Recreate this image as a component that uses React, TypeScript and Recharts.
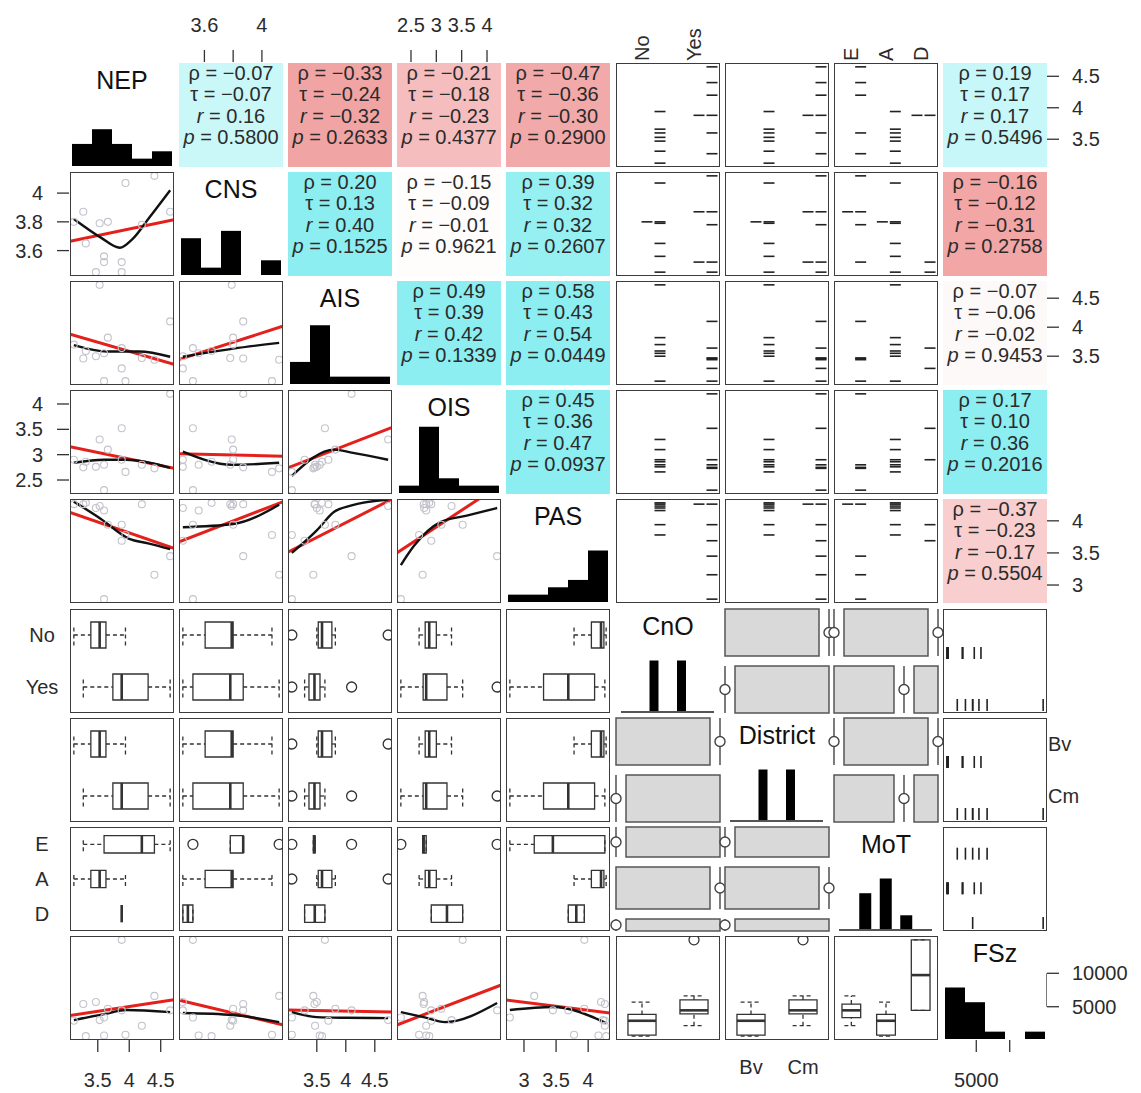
import React from "react";
import {
  ComposedChart,
  Scatter,
  Line,
  Bar,
  XAxis,
  YAxis,
  ReferenceArea,
  ReferenceLine,
} from "recharts";

const FONT = "'Liberation Sans', Arial, Helvetica, sans-serif";
const INK = "#2b2b2b";
const AX_FS = 20;

const varNames = ["NEP", "CNS", "AIS", "OIS", "PAS", "CnO", "District", "MoT", "FSz"];

// 14 respondents: first 7 are CnO No / District Bv / MoT A, then 5 x E, 2 x D
const NEP = [3.12, 3.31, 3.47, 3.53, 3.6, 3.66, 3.94, 3.27, 3.6, 4.2, 4.4, 4.65, 3.88, 3.88];
const CNS = [3.8, 3.65, 3.45, 3.79, 3.56, 3.8, 4.07, 3.87, 3.52, 3.78, 4.12, 3.87, 3.45, 3.52];
const AIS = [3.7, 3.59, 3.5, 4.73, 3.55, 3.82, 3.07, 3.46, 3.07, 3.47, 3.44, 4.1, 3.29, 3.64];
const OIS = [2.9, 2.86, 2.76, 3.3, 2.8, 3.1, 2.66, 2.75, 2.3, 2.8, 2.73, 4.2, 2.9, 3.52];
const PAS = [4.26, 4.28, 4.2, 4.23, 4.16, 3.94, 3.78, 4.26, 2.78, 4.26, 3.16, 3.45, 3.69, 3.94];
const FSz = [2900, 600, 5700, 3000, 700, 4700, 800, 5400, 3380, 2160, 6620, 4460, 4460, 15000];
const CnO = ["No", "No", "No", "No", "No", "No", "No", "Yes", "Yes", "Yes", "Yes", "Yes", "Yes", "Yes"];
const District = ["Bv", "Bv", "Bv", "Bv", "Bv", "Bv", "Bv", "Cm", "Cm", "Cm", "Cm", "Cm", "Cm", "Cm"];
const MoT = ["A", "A", "A", "A", "A", "A", "A", "E", "E", "E", "E", "E", "D", "D"];

const cnoLevels = ["No", "Yes"];
const districtLevels = ["Bv", "Cm"];
const motLevels = ["E", "A", "D"];

// histogram counts on the diagonal
const nepHist = [3, 5, 3, 1, 2];
const cnsHist = [5, 1, 6, 0, 2];
const aisHist = [3, 8, 1, 1, 1];
const oisHist = [1, 9, 2, 1, 1];
const pasHist = [1, 1, 2, 3, 7];
const fszHist = [7, 5, 1, 0, 1];

// correlation cells (row, col)
const statsPairs = [[0, 1], [0, 2], [0, 3], [0, 4], [1, 2], [1, 3], [1, 4], [2, 3], [2, 4], [3, 4], [0, 8], [1, 8], [2, 8], [3, 8], [4, 8]];
const rhoVals = [-0.07, -0.33, -0.21, -0.47, 0.2, -0.15, 0.39, 0.49, 0.58, 0.45, 0.19, -0.16, -0.07, 0.17, -0.37];
const tauVals = [-0.07, -0.24, -0.18, -0.36, 0.13, -0.09, 0.32, 0.39, 0.43, 0.36, 0.17, -0.12, -0.06, 0.1, -0.23];
const rVals = [0.16, -0.32, -0.23, -0.3, 0.4, -0.01, 0.32, 0.42, 0.54, 0.47, 0.17, -0.31, -0.02, 0.36, -0.17];
const pVals = ["0.5800", "0.2633", "0.4377", "0.2900", "0.1525", "0.9621", "0.2607", "0.1339", "0.0449", "0.0937", "0.5496", "0.2758", "0.9453", "0.2016", "0.5504"];

// scatter panels (row, col) with the red linear fit and the black smoother
const scatterPanels = [[1, 0], [2, 0], [2, 1], [3, 0], [3, 1], [3, 2], [4, 0], [4, 1], [4, 2], [4, 3], [8, 0], [8, 1], [8, 2], [8, 3], [8, 4]];
const fitLines = [
  [[3.06, 3.665], [4.71, 3.815]],
  [[3.06, 3.88], [4.71, 3.36]],
  [[3.42, 3.44], [4.15, 4.02]],
  [[3.06, 3.155], [4.71, 2.73]],
  [[3.42, 3.02], [4.15, 2.97]],
  [[3.0, 2.74], [4.8, 3.54]],
  [[3.06, 4.13], [4.71, 3.57]],
  [[3.42, 3.67], [4.15, 4.3]],
  [[3.0, 3.51], [4.8, 4.34]],
  [[2.22, 3.5], [4.28, 4.57]],
  [[3.06, 3670], [4.71, 6060]],
  [[3.42, 6000], [4.15, 2270]],
  [[3.0, 4500], [4.8, 4200]],
  [[2.22, 2270], [4.28, 8250]],
  [[2.72, 6000], [4.34, 4060]],
];
const smoothLines = [
  [[3.12, 3.82], [3.55, 3.69], [3.85, 3.62], [4.05, 3.68], [4.32, 3.83], [4.65, 4.02]],
  [[3.12, 3.69], [3.65, 3.58], [4.16, 3.58], [4.65, 3.49]],
  [[3.45, 3.49], [3.8, 3.63], [4.12, 3.73]],
  [[3.12, 2.84], [3.6, 2.9], [3.96, 2.9], [4.65, 2.74]],
  [[3.45, 3.06], [3.79, 2.8], [4.12, 2.84]],
  [[3.07, 2.58], [3.8, 3.1], [4.1, 3.04], [4.73, 2.9]],
  [[3.12, 4.3], [3.55, 4.03], [4.0, 3.72], [4.3, 3.65], [4.65, 3.56]],
  [[3.45, 3.9], [3.8, 3.95], [4.12, 4.25]],
  [[3.07, 3.5], [3.5, 3.85], [3.8, 4.14], [4.1, 4.24], [4.73, 4.33]],
  [[2.3, 3.31], [2.56, 3.61], [3.08, 3.98], [3.6, 4.08], [4.2, 4.2]],
  [[3.12, 3000], [3.6, 3900], [3.96, 4500], [4.65, 4200]],
  [[3.45, 4060], [3.8, 3760], [4.12, 2700]],
  [[3.07, 4200], [3.5, 3450], [4.0, 3350], [4.73, 3300]],
  [[2.3, 4200], [2.75, 3450], [3.17, 2700], [4.2, 5560]],
  [[2.78, 4500], [3.45, 4960], [4.28, 2560]],
];

// outer axes
const cnsTicks = [3.6, 3.8, 4];
const cnsTopLabels = ["3.6", "", "4"];
const cnsLeftLabels = ["3.6", "3.8", "4"];
const oisTicks = [2.5, 3, 3.5, 4];
const oisLabels = ["2.5", "3", "3.5", "4"];
const nepTicks = [3.5, 4, 4.5];
const nepLabels = ["3.5", "4", "4.5"];
const aisTicks = [3.5, 4, 4.5];
const aisLabels = ["3.5", "4", "4.5"];
const pasTicks = [3, 3.5, 4];
const pasLabels = ["3", "3.5", "4"];
const fszTicks = [5000, 10000];
const fszBottomLabels = ["5000", ""];
const fszRightLabels = ["5000", "10000"];

const contVars: Record<number, number[]> = { 0: NEP, 1: CNS, 2: AIS, 3: OIS, 4: PAS, 8: FSz };
const factVars: Record<number, string[]> = { 5: CnO, 6: District, 7: MoT };
const factLevels: Record<number, string[]> = { 5: cnoLevels, 6: districtLevels, 7: motLevels };
const histCounts: Record<number, number[]> = { 0: nepHist, 1: cnsHist, 2: aisHist, 3: oisHist, 4: pasHist, 8: fszHist };

const S = 104;
const PITCH = 109.1;
const X0 = 70;
const Y0 = 63;
const W = 1141;
const H = 1093;
const colLeft = (c: number) => Math.round(X0 + c * PITCH);
const rowTop = (r: number) => Math.round(Y0 + r * PITCH);
const ZERO = { top: 0, right: 0, bottom: 0, left: 0 };
const isCont = (i: number) => i <= 4 || i === 8;
const NONE: { x: number; y: number }[] = [];

function domainOf(v: number[]): [number, number] {
  const lo = Math.min(...v);
  const hi = Math.max(...v);
  const pad = (hi - lo) * 0.04;
  return [lo - pad, hi + pad];
}

function fivenum(v: number[]) {
  const s = [...v].sort((a, b) => a - b);
  const n = s.length;
  const n4 = Math.floor((n + 3) / 2) / 2;
  const d = [1, n4, (n + 1) / 2, n + 1 - n4, n];
  return d.map((k) => 0.5 * (s[Math.floor(k) - 1] + s[Math.ceil(k) - 1]));
}

function boxStats(v: number[]) {
  const [, q1, med, q3] = fivenum(v);
  const iqr = q3 - q1;
  const lo = q1 - 1.5 * iqr;
  const hi = q3 + 1.5 * iqr;
  const inside = v.filter((x) => x >= lo && x <= hi);
  return {
    q1,
    med,
    q3,
    wlo: Math.min(...inside),
    whi: Math.max(...inside),
    out: v.filter((x) => x < lo || x > hi),
  };
}

function corrColor(r: number) {
  const t = Math.min(1, Math.abs(r) / 0.35);
  const full = r >= 0 ? [140, 238, 240] : [240, 155, 155];
  const c = full.map((f) => Math.round(255 + (f - 255) * t));
  return `rgb(${c.join(",")})`;
}

const fmt = (v: number) => (v < 0 ? "\u2212" : "") + Math.abs(v).toFixed(2);

const openDot = (p: any) => (
  <circle cx={p.cx} cy={p.cy} r={3.5} fill="none" stroke="#c3c3cc" strokeWidth={1.1} />
);
const outlierDot = (p: any) => (
  <circle cx={p.cx} cy={p.cy} r={5} fill="none" stroke="#333" strokeWidth={1.3} />
);
const hDash = (p: any) => (
  <line x1={p.cx - 5.5} x2={p.cx + 5.5} y1={p.cy} y2={p.cy} stroke="#222" strokeWidth={1.6} />
);
const vDash = (p: any) => (
  <line x1={p.cx} x2={p.cx} y1={p.cy - 6} y2={p.cy + 6} stroke="#222" strokeWidth={1.6} />
);

const boxLine = { stroke: "#333", strokeWidth: 1.3, ifOverflow: "visible" as const };
const dashLine = { ...boxLine, strokeDasharray: "4 3" };

function ScatterPanel({ r, c }: { r: number; c: number }) {
  const idx = scatterPanels.findIndex(([a, b]) => a === r && b === c);
  const xs = contVars[c];
  const ys = contVars[r];
  const pts = xs.map((x, i) => ({ x, y: ys[i] }));
  const fit = fitLines[idx].map(([x, y]) => ({ x, y }));
  const smooth = smoothLines[idx].map(([x, y]) => ({ x, y }));
  return (
    <ComposedChart width={S} height={S} margin={ZERO}>
      <XAxis type="number" dataKey="x" domain={domainOf(xs)} hide allowDataOverflow />
      <YAxis type="number" dataKey="y" domain={domainOf(ys)} hide allowDataOverflow />
      <Scatter data={pts} shape={openDot} isAnimationActive={false} />
      <Line data={fit} dataKey="y" type="linear" stroke="#e3201b" strokeWidth={3} dot={false} isAnimationActive={false} />
      <Line data={smooth} dataKey="y" type="monotone" stroke="#111" strokeWidth={2.4} dot={false} isAnimationActive={false} />
    </ComposedChart>
  );
}

function HistPanel({ i }: { i: number }) {
  const data = histCounts[i].map((n, b) => ({ b: String(b), n }));
  return (
    <ComposedChart width={S} height={S} margin={{ top: 0, right: 2, bottom: 1, left: 2 }} data={data} barCategoryGap={0} barGap={0}>
      <XAxis dataKey="b" type="category" hide />
      <YAxis type="number" domain={[0, NEP.length]} hide />
      <Bar dataKey="n" fill="#000" isAnimationActive={false} />
    </ComposedChart>
  );
}

function FactorBarPanel({ i }: { i: number }) {
  const levels = factLevels[i];
  const vals = factVars[i];
  const data = levels.map((lv) => ({ lv, n: vals.filter((v) => v === lv).length }));
  const k = levels.length;
  const band = k === 2 ? 27.5 : 20.5;
  const side = (S - band * k) / 2;
  return (
    <ComposedChart width={S} height={S} margin={{ top: 0, right: side, bottom: 1, left: side }} data={data}>
      <XAxis dataKey="lv" type="category" hide />
      <YAxis type="number" domain={[0, vals.length]} hide />
      <Bar dataKey="n" fill="#000" barSize={k === 2 ? 9 : 12} isAnimationActive={false} />
    </ComposedChart>
  );
}

function BarcodePanel({ r, c }: { r: number; c: number }) {
  const ys = contVars[r];
  const groups = factVars[c];
  const levels = factLevels[c];
  const k = levels.length;
  const ux = k / S;
  const pts: { x: number; y: number }[] = [];
  levels.forEach((lv, g) => {
    const used: Record<string, number> = {};
    ys.forEach((y, i) => {
      if (groups[i] !== lv) return;
      const key = y.toFixed(3);
      const n = used[key] || 0;
      used[key] = n + 1;
      pts.push({ x: g + 1 - 8 * ux - n * 13 * ux, y });
    });
  });
  return (
    <ComposedChart width={S} height={S} margin={ZERO}>
      <XAxis type="number" dataKey="x" domain={[0, k]} hide allowDataOverflow />
      <YAxis type="number" dataKey="y" domain={domainOf(ys)} hide allowDataOverflow />
      <Scatter data={pts} shape={hDash} isAnimationActive={false} />
    </ComposedChart>
  );
}

function VBarcodePanel({ r }: { r: number }) {
  const groups = factVars[r];
  const levels = factLevels[r];
  const k = levels.length;
  const uy = k / S;
  const pts = FSz.map((x, i) => ({ x, y: k - levels.indexOf(groups[i]) - 1 + 8 * uy }));
  return (
    <ComposedChart width={S} height={S} margin={ZERO}>
      <XAxis type="number" dataKey="x" domain={domainOf(FSz)} hide allowDataOverflow />
      <YAxis type="number" dataKey="y" domain={[0, k]} hide allowDataOverflow />
      <Scatter data={pts} shape={vDash} isAnimationActive={false} />
    </ComposedChart>
  );
}

function HBoxPanel({ r, c }: { r: number; c: number }) {
  const vals = contVars[c];
  const groups = factVars[r];
  const levels = factLevels[r];
  const k = levels.length;
  const hw = 0.25;
  const sw = 0.2;
  const els: React.ReactNode[] = [];
  const outs: { x: number; y: number }[] = [];
  levels.forEach((lv, g) => {
    const b = boxStats(vals.filter((_, i) => groups[i] === lv));
    const y = k - g - 0.5;
    els.push(<ReferenceArea key={`a${g}`} x1={b.q1} x2={b.q3} y1={y - hw} y2={y + hw} fill="none" {...boxLine} />);
    els.push(<ReferenceLine key={`m${g}`} segment={[{ x: b.med, y: y - hw }, { x: b.med, y: y + hw }]} {...boxLine} strokeWidth={2.6} />);
    els.push(<ReferenceLine key={`wl${g}`} segment={[{ x: b.wlo, y }, { x: b.q1, y }]} {...dashLine} />);
    els.push(<ReferenceLine key={`wh${g}`} segment={[{ x: b.q3, y }, { x: b.whi, y }]} {...dashLine} />);
    els.push(<ReferenceLine key={`sl${g}`} segment={[{ x: b.wlo, y: y - sw }, { x: b.wlo, y: y + sw }]} {...dashLine} />);
    els.push(<ReferenceLine key={`sh${g}`} segment={[{ x: b.whi, y: y - sw }, { x: b.whi, y: y + sw }]} {...dashLine} />);
    b.out.forEach((x) => outs.push({ x, y }));
  });
  return (
    <ComposedChart width={S} height={S} margin={ZERO}>
      <XAxis type="number" dataKey="x" domain={domainOf(vals)} hide allowDataOverflow />
      <YAxis type="number" dataKey="y" domain={[0, k]} hide allowDataOverflow />
      {els}
      <Scatter data={outs} shape={outlierDot} isAnimationActive={false} />
    </ComposedChart>
  );
}

function VBoxPanel({ c }: { c: number }) {
  const groups = factVars[c];
  const levels = factLevels[c];
  const hw = 0.27;
  const sw = 0.2;
  const els: React.ReactNode[] = [];
  const outs: { x: number; y: number }[] = [];
  levels.forEach((lv, g) => {
    const b = boxStats(FSz.filter((_, i) => groups[i] === lv));
    const x = g + 0.5;
    els.push(<ReferenceArea key={`a${g}`} x1={x - hw} x2={x + hw} y1={b.q1} y2={b.q3} fill="none" {...boxLine} />);
    els.push(<ReferenceLine key={`m${g}`} segment={[{ x: x - hw, y: b.med }, { x: x + hw, y: b.med }]} {...boxLine} strokeWidth={2.6} />);
    els.push(<ReferenceLine key={`wl${g}`} segment={[{ x, y: b.wlo }, { x, y: b.q1 }]} {...dashLine} />);
    els.push(<ReferenceLine key={`wh${g}`} segment={[{ x, y: b.q3 }, { x, y: b.whi }]} {...dashLine} />);
    els.push(<ReferenceLine key={`sl${g}`} segment={[{ x: x - sw, y: b.wlo }, { x: x + sw, y: b.wlo }]} {...dashLine} />);
    els.push(<ReferenceLine key={`sh${g}`} segment={[{ x: x - sw, y: b.whi }, { x: x + sw, y: b.whi }]} {...dashLine} />);
    b.out.forEach((y) => outs.push({ x, y }));
  });
  return (
    <ComposedChart width={S} height={S} margin={ZERO}>
      <XAxis type="number" dataKey="x" domain={[0, levels.length]} hide allowDataOverflow />
      <YAxis type="number" dataKey="y" domain={domainOf(FSz)} hide allowDataOverflow />
      {els}
      <Scatter data={outs} shape={outlierDot} isAnimationActive={false} />
    </ComposedChart>
  );
}

// empty cell of a mosaic: a vertical rule through a small open circle
const emptyCellMark = (p: any) => (
  <g>
    <line x1={p.cx} x2={p.cx} y1={p.cy - p.payload.hpx / 2} y2={p.cy + p.payload.hpx / 2} stroke="#444" strokeWidth={1.4} />
    <circle cx={p.cx} cy={p.cy} r={5} fill="#fff" stroke="#444" strokeWidth={1.4} />
  </g>
);

function MosaicPanel({ r, c }: { r: number; c: number }) {
  const rowF = factVars[r];
  const colF = factVars[c];
  const rowL = factLevels[r];
  const colL = factLevels[c];
  const gap = 10 / S;
  const n = rowF.length;
  const rowAvail = 1 - gap * (rowL.length - 1);
  const colAvail = 1 - gap * (colL.length - 1);
  const els: React.ReactNode[] = [];
  const empties: { x: number; y: number; hpx: number }[] = [];
  let yTop = 1;
  rowL.forEach((rl, a) => {
    const rowN = rowF.filter((v) => v === rl).length;
    const y1 = yTop - (rowAvail * rowN) / n;
    const y2 = yTop;
    let x = 0;
    colL.forEach((cl, b) => {
      const cnt = rowF.filter((v, i) => v === rl && colF[i] === cl).length;
      const w = (colAvail * cnt) / rowN;
      if (cnt > 0) {
        els.push(
          <ReferenceArea key={`r${a}${b}`} x1={x} x2={x + w} y1={y1} y2={y2} fill="#d9d9d9" fillOpacity={1} stroke="#555" strokeWidth={1.5} ifOverflow="visible" />
        );
      } else {
        empties.push({ x, y: (y1 + y2) / 2, hpx: (y2 - y1) * S });
      }
      x += w + gap;
    });
    yTop = y1 - gap;
  });
  return (
    <div className="mosaic">
      <ComposedChart width={S} height={S} margin={ZERO}>
        <XAxis type="number" dataKey="x" domain={[0, 1]} hide />
        <YAxis type="number" dataKey="y" domain={[0, 1]} hide />
        {els}
        <Scatter data={empties} shape={emptyCellMark} isAnimationActive={false} />
      </ComposedChart>
    </div>
  );
}

function StatsCell({ r, c }: { r: number; c: number }) {
  const k = statsPairs.findIndex(([a, b]) => a === r && b === c);
  return (
    <div
      style={{
        width: S,
        height: S,
        background: corrColor(rVals[k]),
        fontSize: 20,
        lineHeight: "21.3px",
        textAlign: "center",
        color: INK,
        whiteSpace: "nowrap",
      }}
    >
      <div>{"\u03c1 = " + fmt(rhoVals[k])}</div>
      <div>{"\u03c4 = " + fmt(tauVals[k])}</div>
      <div>
        <i>r</i>
        {" = " + fmt(rVals[k])}
      </div>
      <div>
        <i>p</i>
        {" = " + pVals[k]}
      </div>
    </div>
  );
}

function DiagCell({ i }: { i: number }) {
  return (
    <div style={{ position: "relative", width: S, height: S }}>
      <div style={{ position: "absolute", left: 0, top: 0 }}>
        {isCont(i) ? <HistPanel i={i} /> : <FactorBarPanel i={i} />}
      </div>
      {!isCont(i) && (
        <div style={{ position: "absolute", left: 5, top: 102, width: 93, height: 1.5, background: "#555" }} />
      )}
      <div
        style={{
          position: "absolute",
          left: -20,
          top: 4,
          width: S + 40,
          textAlign: "center",
          fontSize: 25,
          lineHeight: "26px",
          color: "#111",
        }}
      >
        {varNames[i]}
      </div>
    </div>
  );
}

function Cell({ r, c }: { r: number; c: number }) {
  let body: React.ReactNode = null;
  let framed = true;
  if (r === c) {
    body = <DiagCell i={r} />;
    framed = false;
  } else if (isCont(r) && isCont(c)) {
    if (r < c) {
      body = <StatsCell r={r} c={c} />;
      framed = false;
    } else body = <ScatterPanel r={r} c={c} />;
  } else if (isCont(r) && !isCont(c)) {
    body = r < c ? <BarcodePanel r={r} c={c} /> : <VBoxPanel c={c} />;
  } else if (!isCont(r) && isCont(c)) {
    body = c < r ? <HBoxPanel r={r} c={c} /> : <VBarcodePanel r={r} />;
  } else {
    body = <MosaicPanel r={r} c={c} />;
    framed = false;
  }
  return (
    <div style={{ position: "absolute", left: colLeft(c), top: rowTop(r), width: S, height: S }}>
      {body}
      {framed && (
        <div
          style={{
            position: "absolute",
            left: 0,
            top: 0,
            width: S,
            height: S,
            boxSizing: "border-box",
            border: "1.6px solid #3c3c3c",
            pointerEvents: "none",
          }}
        />
      )}
    </div>
  );
}

const tickLineStyle = { stroke: "#333", strokeWidth: 1.3 };
const labelProps = { fontSize: AX_FS, fontFamily: FONT, fill: INK };
const BOTTOM_TOP = rowTop(8) + S - 1;
const RIGHT_LEFT = colLeft(8) + S - 1;

// a horizontal axis strip (top or bottom of the matrix) for column c
function HAxisStrip({
  c,
  side,
  domain,
  ticks,
  render,
  tickSize,
}: {
  c: number;
  side: "top" | "bottom";
  domain: [number, number];
  ticks: number[];
  render: (p: any) => React.ReactElement;
  tickSize?: number;
}) {
  const h = side === "top" ? Y0 : H - BOTTOM_TOP;
  return (
    <div style={{ position: "absolute", left: colLeft(c), top: side === "top" ? 0 : BOTTOM_TOP }}>
      <ComposedChart width={S} height={h} margin={ZERO}>
        <XAxis
          type="number"
          dataKey="x"
          orientation={side}
          domain={domain}
          allowDataOverflow
          ticks={ticks}
          interval={0}
          height={h - 1}
          tickSize={tickSize ?? 0}
          axisLine={false}
          tickLine={tickSize ? tickLineStyle : false}
          tick={render}
        />
        <YAxis type="number" dataKey="y" domain={[0, 1]} hide allowDataOverflow />
        <Scatter data={NONE} isAnimationActive={false} />
      </ComposedChart>
    </div>
  );
}

// a vertical axis strip (left or right of the matrix) for row r
function VAxisStrip({
  r,
  side,
  domain,
  ticks,
  render,
  tickSize,
  bracket,
}: {
  r: number;
  side: "left" | "right";
  domain: [number, number];
  ticks: number[];
  render: (p: any) => React.ReactElement;
  tickSize?: number;
  bracket?: boolean;
}) {
  const x0 = side === "left" ? 0 : RIGHT_LEFT;
  const w = side === "left" ? X0 : W - RIGHT_LEFT;
  return (
    <div style={{ position: "absolute", left: x0, top: rowTop(r) }}>
      <ComposedChart width={w} height={S} margin={ZERO}>
        <XAxis type="number" dataKey="x" domain={[0, 1]} hide allowDataOverflow />
        <YAxis
          type="number"
          dataKey="y"
          orientation={side}
          domain={domain}
          allowDataOverflow
          ticks={ticks}
          interval={0}
          width={w - 1}
          tickSize={tickSize ?? 0}
          axisLine={false}
          tickLine={tickSize ? tickLineStyle : false}
          tick={render}
        />
        {bracket && (
          <ReferenceLine
            segment={[{ x: 0, y: ticks[0] }, { x: 0, y: ticks[ticks.length - 1] }]}
            stroke="#333"
            strokeWidth={1.3}
            ifOverflow="visible"
          />
        )}
        <Scatter data={NONE} isAnimationActive={false} />
      </ComposedChart>
    </div>
  );
}

const levelTicks = (k: number) => Array.from({ length: k }, (_, g) => g + 0.5);
const levelTicksDown = (k: number) => Array.from({ length: k }, (_, g) => k - g - 0.5);

function Axes() {
  const topNum = (labels: string[]) => (p: any) => (
    <text x={p.x} y={32} textAnchor="middle" {...labelProps}>
      {labels[p.index]}
    </text>
  );
  const bottomNum = (labels: string[]) => (p: any) => (
    <text x={p.x} y={48} textAnchor="middle" {...labelProps}>
      {labels[p.index]}
    </text>
  );
  const leftNum = (labels: string[]) => (p: any) => (
    <text x={43} y={p.y + 7} textAnchor="end" {...labelProps}>
      {labels[p.index]}
    </text>
  );
  const rightNum = (labels: string[]) => (p: any) => (
    <text x={26} y={p.y + 7} textAnchor="start" {...labelProps}>
      {labels[p.index]}
    </text>
  );
  const topFactor = (levels: string[]) => (p: any) => (
    <text x={p.x} y={61} dy="0.35em" textAnchor="start" transform={`rotate(-90, ${p.x}, 61)`} {...labelProps}>
      {levels[p.index]}
    </text>
  );
  const bottomFactor = (levels: string[]) => (p: any) => (
    <text x={p.x} y={35} textAnchor="middle" {...labelProps}>
      {levels[p.index]}
    </text>
  );
  const leftFactor = (levels: string[]) => (p: any) => (
    <text x={42} y={p.y + 7} textAnchor="middle" {...labelProps}>
      {levels[p.index]}
    </text>
  );
  const rightFactor = (levels: string[]) => (p: any) => (
    <text x={2} y={p.y + 7} textAnchor="start" {...labelProps}>
      {levels[p.index]}
    </text>
  );
  return (
    <>
      <HAxisStrip c={1} side="top" domain={domainOf(CNS)} ticks={cnsTicks} render={topNum(cnsTopLabels)} tickSize={12} />
      <HAxisStrip c={3} side="top" domain={domainOf(OIS)} ticks={oisTicks} render={topNum(oisLabels)} tickSize={12} />
      <HAxisStrip c={5} side="top" domain={[0, 2]} ticks={levelTicks(2)} render={topFactor(cnoLevels)} />
      <HAxisStrip c={7} side="top" domain={[0, 3]} ticks={levelTicks(3)} render={topFactor(motLevels)} />
      <HAxisStrip c={0} side="bottom" domain={domainOf(NEP)} ticks={nepTicks} render={bottomNum(nepLabels)} tickSize={12} />
      <HAxisStrip c={2} side="bottom" domain={domainOf(AIS)} ticks={aisTicks} render={bottomNum(aisLabels)} tickSize={12} />
      <HAxisStrip c={4} side="bottom" domain={domainOf(PAS)} ticks={pasTicks} render={bottomNum(pasLabels)} tickSize={12} />
      <HAxisStrip c={6} side="bottom" domain={[0, 2]} ticks={levelTicks(2)} render={bottomFactor(districtLevels)} />
      <HAxisStrip c={8} side="bottom" domain={domainOf(FSz)} ticks={fszTicks} render={bottomNum(fszBottomLabels)} tickSize={12} />
      <VAxisStrip r={1} side="left" domain={domainOf(CNS)} ticks={cnsTicks} render={leftNum(cnsLeftLabels)} tickSize={12} />
      <VAxisStrip r={3} side="left" domain={domainOf(OIS)} ticks={oisTicks} render={leftNum(oisLabels)} tickSize={12} />
      <VAxisStrip r={5} side="left" domain={[0, 2]} ticks={levelTicksDown(2)} render={leftFactor(cnoLevels)} />
      <VAxisStrip r={7} side="left" domain={[0, 3]} ticks={levelTicksDown(3)} render={leftFactor(motLevels)} />
      <VAxisStrip r={0} side="right" domain={domainOf(NEP)} ticks={nepTicks} render={rightNum(nepLabels)} tickSize={12} />
      <VAxisStrip r={2} side="right" domain={domainOf(AIS)} ticks={aisTicks} render={rightNum(aisLabels)} tickSize={12} />
      <VAxisStrip r={4} side="right" domain={domainOf(PAS)} ticks={pasTicks} render={rightNum(pasLabels)} tickSize={12} />
      <VAxisStrip r={6} side="right" domain={[0, 2]} ticks={levelTicksDown(2)} render={rightFactor(districtLevels)} />
      <VAxisStrip r={8} side="right" domain={domainOf(FSz)} ticks={fszTicks} render={rightNum(fszRightLabels)} tickSize={12} bracket />
    </>
  );
}

export default function App() {
  const cells: React.ReactNode[] = [];
  for (let r = 0; r < 9; r++) {
    for (let c = 0; c < 9; c++) {
      cells.push(<Cell key={`${r}-${c}`} r={r} c={c} />);
    }
  }
  return (
    <div
      style={{
        position: "absolute",
        left: 0,
        top: 0,
        width: W,
        height: H,
        background: "#fff",
        fontFamily: FONT,
        overflow: "hidden",
      }}
    >
      <style>{`.mosaic .recharts-surface { overflow: visible; }`}</style>
      {cells}
      <Axes />
    </div>
  );
}
